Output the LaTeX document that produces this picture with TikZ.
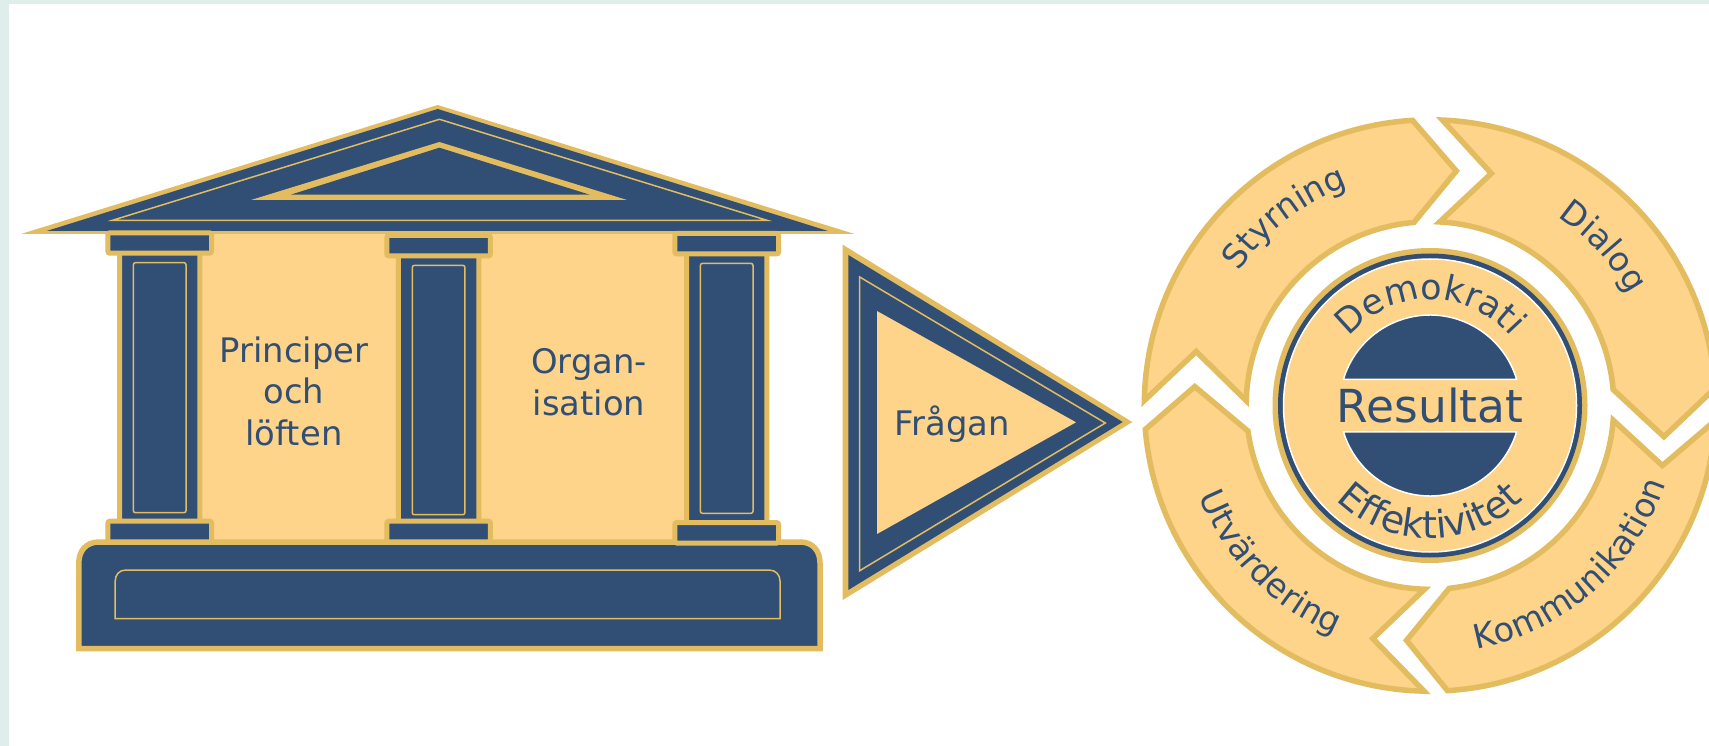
\documentclass[tikz,border=0pt]{standalone}
\usepackage{fontspec}
\setmainfont{DejaVu Sans}
\usetikzlibrary{decorations.text}
\definecolor{navy}{HTML}{314F75}
\definecolor{gold}{HTML}{E4BC60}
\definecolor{sand}{HTML}{FDD48A}
\definecolor{mist}{HTML}{DFEEEA}
\newcommand{\ringfont}{\fontsize{33.5}{33.5}\selectfont}
\newcommand{\demofont}{\fontsize{35}{35}\selectfont}
\newcommand{\effectfont}{\fontsize{38}{38}\selectfont}
\tikzset{
	goldarea/.style={fill=gold},
	navyarea/.style={fill=navy},
	sandarea/.style={fill=sand},
	hairline/.style={draw=gold,line width=1.5},
	edged/.style={draw=gold,fill=navy,line width=5,rounded corners=2},
	band/.style={draw=gold,fill=sand,line width=5.5,miter limit=20},
	label/.style={text=navy,font=\fontsize{33.8}{41.5}\selectfont,align=center},
	curved/.style={decorate,decoration={text along path,text align=center,text color=navy,text={#1}}}
}

\begin{document}
\begin{tikzpicture}[x=1pt,y=-1pt]
		\useasboundingbox (0,0) rectangle (1709,746);
		\clip (0,0) rectangle (1709,746);
		\fill[mist] (0,0) rectangle (1709,746);
		\fill[white] (9,4) rectangle (1709,746);
		\fill[sandarea] (195,230) rectangle (700,545);
		\draw[draw=gold,fill=navy,line width=5.5] (78.8,648.5) -- (78.8,563) .. controls (78.8,551) and (86,542) .. (99,542) -- (800,542) .. controls (813,542) and (820,551) .. (820,563) -- (820,648.5) -- cycle;
		\draw[hairline] (115.2,618.7) -- (115.2,581) .. controls (115.2,575) and (119,570) .. (126,570) -- (769,570) .. controls (776,570) and (780,575) .. (780,581) -- (780,618.7) -- cycle;
		\fill[goldarea] (437.7,105) -- (854.6,234) -- (21,234) -- cycle;
		\fill[navyarea] (437.7,109) -- (828,231) -- (46.6,231) -- cycle;
		\draw[hairline] (439.4,119.3) -- (767,220.3) -- (112.5,220.3) -- cycle;
		\fill[goldarea] (439.4,142) -- (627,200) -- (251,200) -- cycle;
		\fill[navyarea] (439.4,147.7) -- (589.7,194.7) -- (290.7,194.7) -- cycle;
		\foreach \colx/\captop/\basetop/\innerbot in {159.7/235.3/523.7/512.7, 438.6/238/523.7/514.7, 726.7/236/525/513.3} {
			\draw[edged] ({\colx-40.2},{\captop+16}) rectangle ({\colx+40.2},{\basetop-2});
			\draw[hairline,rounded corners=2] ({\colx-26.3},{\captop+27.4}) rectangle ({\colx+26.3},\innerbot);
			\draw[edged] ({\colx-51.8},{\captop-2.5}) rectangle ({\colx+51.8},{\captop+17.9});
			\draw[edged] ({\colx-51.8},{\basetop-2.5}) rectangle ({\colx+51.8},{\basetop+18.1});
		}
		\node[label] (principer) at (294,391) {Principer\\och\\löften};
		\node[label] (organisation) at (589,382) {Organ-\\isation};
		\fill[goldarea] (842.7,244.7) -- (1132.3,422) -- (842.7,600) -- cycle;
		\fill[navyarea] (848.3,255) -- (1122.7,422) -- (848.3,590) -- cycle;
		\draw[hairline] (859.7,277) -- (1105.3,423) -- (859.7,570.7) -- cycle;
		\fill[sandarea] (877,311) -- (1076,422.3) -- (877,534) -- cycle;
		\node[label] (fragan) at (952,424) {Frågan};
		\begin{scope}[shift={(1430,405.5)},y=1pt]
			\foreach \tailout/\tailin/\notchang/\headout/\headin/\tipang in {179/178.5/167/93.5/95/83.6, 87.5/87/75.2/3.5/5/-7.6, -3/-4.6/-14.5/-86.5/-84/-95.7, -91.2/-91.7/-103.8/-175.2/-172/-184.6} {
				\draw[band] (\tailout:285.7) arc[start angle=\tailout,end angle=\headout,radius=285.7] -- (\tipang:236) -- (\headin:183.8) arc[start angle=\headin,end angle=\tailin,radius=183.8] -- (\notchang:240) -- cycle;
			}
			\path[curved={|\ringfont|Styrning}] (167.7:234) arc[start angle=167.7,end angle=87.7,radius=234];
			\path[curved={|\ringfont|Dialog}] (82.6:228) arc[start angle=82.6,end angle=2.6,radius=228];
			\path[curved={|\ringfont|Kommunikation}] (-98.8:248) arc[start angle=-98.8,end angle=1.2,radius=248];
			\path[curved={|\ringfont|Utvärdering}] (-175.5:248) arc[start angle=-175.5,end angle=-95.5,radius=248];
			\fill[goldarea] (0,0) circle[radius=157.5];
			\fill[navyarea] (0,0) circle[radius=152];
			\draw[draw=white,fill=sand,line width=1.5] (0,0) circle[radius=146.5];
			\draw[draw=white,fill=navy,line width=1.5] (16.7:90.5) arc[start angle=16.7,end angle=163.3,radius=90.5] -- cycle;
			\draw[draw=white,fill=navy,line width=1.5] (-17:90.5) arc[start angle=-17,end angle=-163,radius=90.5] -- cycle;
			\path[curved={|\demofont|Demokrati}] (160:106) arc[start angle=160,end angle=20,radius=106];
			\path[curved={|\effectfont|Effektivitet}] (-160:133) arc[start angle=-160,end angle=-20,radius=133];
			\node[text=navy,font=\fontsize{45.5}{45.5}\selectfont] (resultat) at (0,0) {Resultat};
		\end{scope}
	\end{tikzpicture}
\end{document}
